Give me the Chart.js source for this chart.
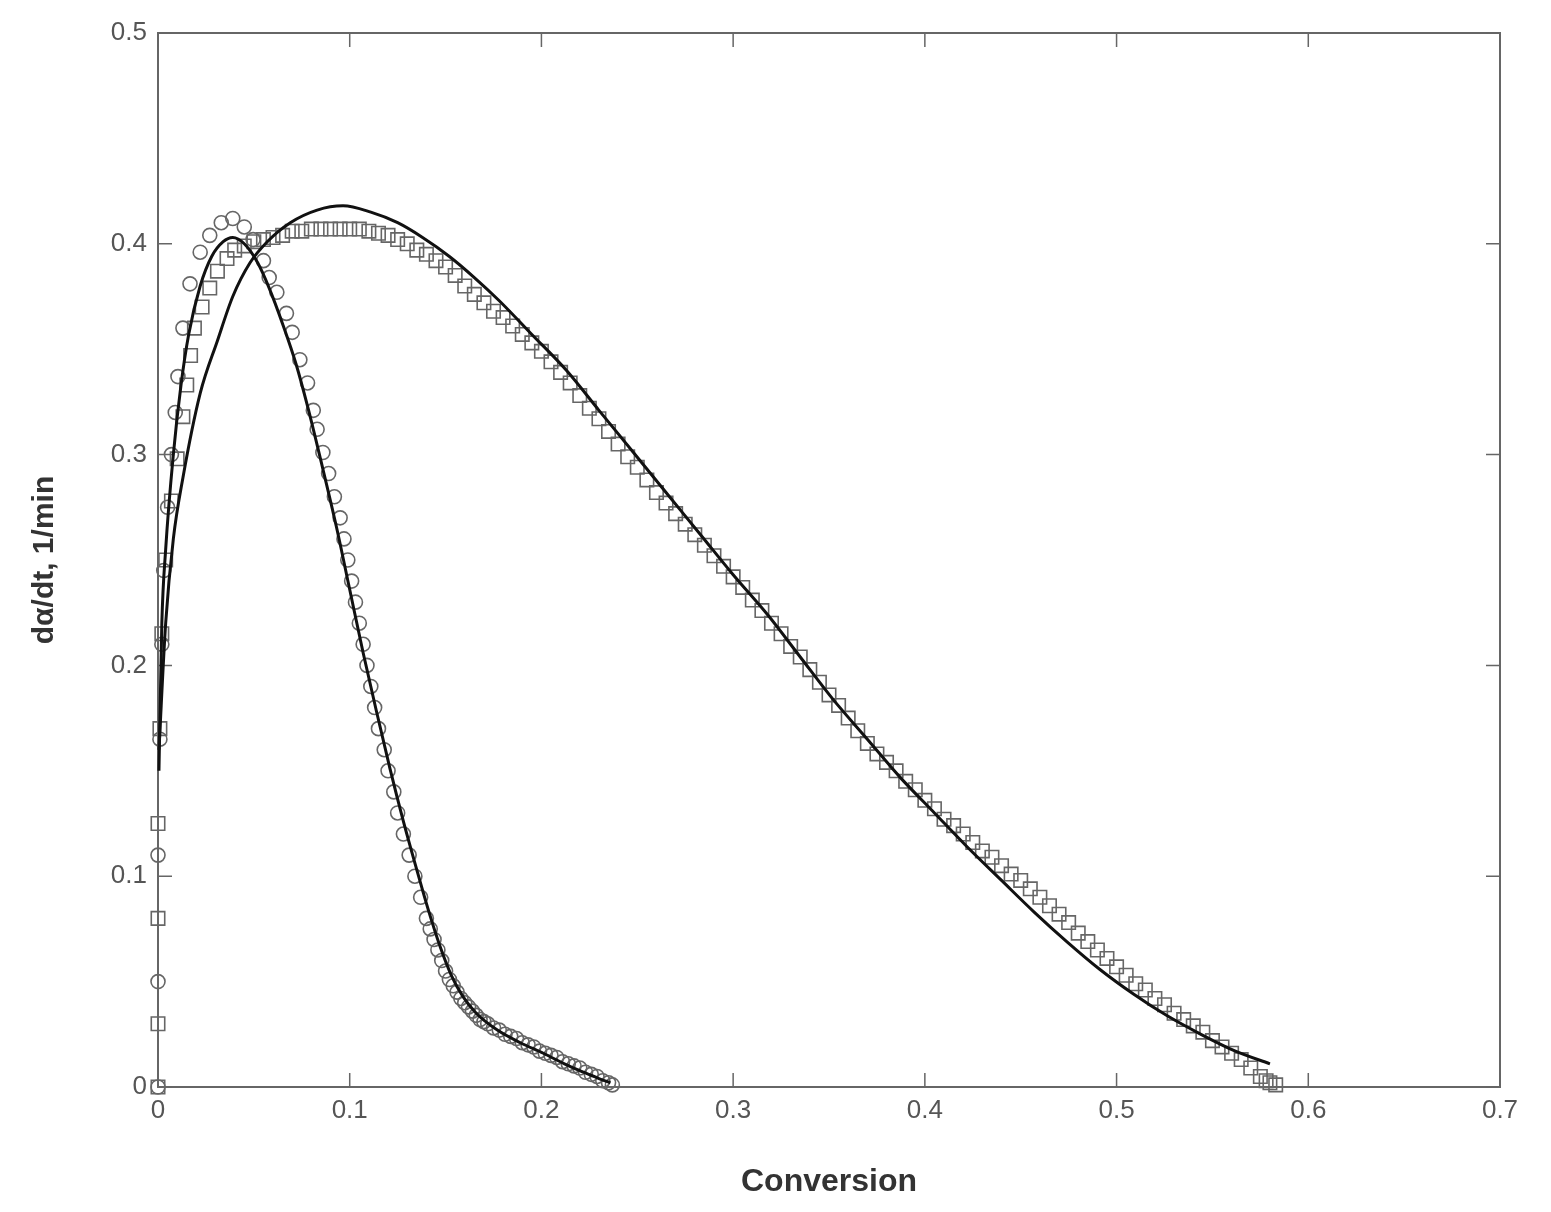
<!DOCTYPE html>
<html>
<head>
<meta charset="utf-8">
<script src="https://cdn.jsdelivr.net/npm/chart.js@4.4.1/dist/chart.umd.min.js"></script>
<style>
  body { margin: 0; background: #fff; }
  #wrap { width: 1551px; height: 1212px; }
</style>
</head>
<body>
<div id="wrap"><canvas id="my-Chart" width="1551" height="1212"></canvas></div>
<script>
// dados (circulos = serie rapida, quadrados = serie lenta)
const fastX = [0, 0, 0, 0.001, 0.002, 0.003, 0.005, 0.007, 0.009, 0.0104, 0.013, 0.0167, 0.022, 0.027, 0.033, 0.039, 0.045, 0.0496,
  0.055, 0.058, 0.062, 0.067, 0.070, 0.074, 0.078, 0.081, 0.083, 0.086, 0.089, 0.092, 0.095, 0.097, 0.099, 0.101, 0.103, 0.105,
  0.107, 0.109, 0.111, 0.113, 0.115, 0.118, 0.120, 0.123, 0.125, 0.128, 0.131, 0.134, 0.137, 0.140, 0.142, 0.144, 0.146, 0.148,
  0.150, 0.152, 0.154, 0.156, 0.158, 0.160, 0.162, 0.164, 0.166, 0.168, 0.170, 0.172, 0.175, 0.178, 0.181, 0.184, 0.187, 0.190,
  0.193, 0.196, 0.199, 0.202, 0.205, 0.208, 0.211, 0.214, 0.217, 0.220, 0.223, 0.226, 0.229, 0.232, 0.235, 0.237];
const fastY = [0, 0.05, 0.11, 0.165, 0.21, 0.245, 0.275, 0.30, 0.32, 0.337, 0.36, 0.381, 0.396, 0.404, 0.410, 0.412, 0.408, 0.402,
  0.392, 0.384, 0.377, 0.367, 0.358, 0.345, 0.334, 0.321, 0.312, 0.301, 0.291, 0.28, 0.27, 0.26, 0.25, 0.24, 0.23, 0.22,
  0.21, 0.20, 0.19, 0.18, 0.17, 0.16, 0.15, 0.14, 0.13, 0.12, 0.11, 0.10, 0.09, 0.08, 0.075, 0.07, 0.065, 0.06,
  0.055, 0.051, 0.048, 0.045, 0.042, 0.040, 0.038, 0.036, 0.034, 0.032, 0.031, 0.030, 0.028, 0.027, 0.025, 0.024, 0.023, 0.021,
  0.020, 0.019, 0.017, 0.016, 0.015, 0.014, 0.012, 0.011, 0.010, 0.009, 0.007, 0.006, 0.005, 0.003, 0.002, 0.001];

const slowX = [0, 0, 0, 0, 0.001, 0.002, 0.004, 0.007, 0.010, 0.013, 0.015, 0.017, 0.019, 0.023, 0.027, 0.031, 0.036, 0.040,
  0.045, 0.050, 0.055, 0.060, 0.065, 0.070, 0.075, 0.080, 0.085, 0.090, 0.095, 0.100, 0.105, 0.110, 0.115, 0.120, 0.125,
  0.130, 0.135, 0.140, 0.145, 0.150, 0.155, 0.160, 0.165, 0.170, 0.175, 0.180, 0.185, 0.190, 0.195, 0.200, 0.205, 0.210,
  0.215, 0.220, 0.225, 0.230, 0.235, 0.240, 0.245, 0.250, 0.255, 0.260, 0.265, 0.270, 0.275, 0.280, 0.285, 0.290, 0.295,
  0.300, 0.305, 0.310, 0.315, 0.320, 0.325, 0.330, 0.335, 0.340, 0.345, 0.350, 0.355, 0.360, 0.365, 0.370, 0.375, 0.380,
  0.385, 0.390, 0.395, 0.400, 0.405, 0.410, 0.415, 0.420, 0.425, 0.430, 0.435, 0.440, 0.445, 0.450, 0.455, 0.460, 0.465,
  0.470, 0.475, 0.480, 0.485, 0.490, 0.495, 0.500, 0.505, 0.510, 0.515, 0.520, 0.525, 0.530, 0.535, 0.540, 0.545, 0.550,
  0.555, 0.560, 0.565, 0.570, 0.575, 0.578, 0.580, 0.583];
const slowY = [0, 0.03, 0.08, 0.125, 0.17, 0.215, 0.25, 0.278, 0.298, 0.318, 0.333, 0.347, 0.360, 0.370, 0.379, 0.387, 0.393, 0.397,
  0.399, 0.401, 0.402, 0.403, 0.404, 0.406, 0.406, 0.407, 0.407, 0.407, 0.407, 0.407, 0.407, 0.406, 0.405, 0.404, 0.402,
  0.400, 0.397, 0.395, 0.392, 0.389, 0.385, 0.380, 0.376, 0.372, 0.368, 0.365, 0.361, 0.357, 0.353, 0.349, 0.344, 0.339,
  0.334, 0.328, 0.322, 0.317, 0.311, 0.305, 0.299, 0.294, 0.288, 0.282, 0.277, 0.272, 0.267, 0.262, 0.257, 0.252, 0.247,
  0.242, 0.237, 0.231, 0.226, 0.220, 0.215, 0.209, 0.204, 0.198, 0.192, 0.186, 0.181, 0.175, 0.169, 0.163, 0.158, 0.154,
  0.150, 0.145, 0.141, 0.136, 0.132, 0.127, 0.124, 0.120, 0.116, 0.112, 0.109, 0.105, 0.101, 0.098, 0.094, 0.090, 0.086,
  0.082, 0.078, 0.073, 0.069, 0.065, 0.061, 0.057, 0.053, 0.049, 0.046, 0.042, 0.039, 0.035, 0.032, 0.029, 0.026, 0.022,
  0.019, 0.016, 0.013, 0.009, 0.005, 0.003, 0.002, 0.001];

// curvas ajustadas (linhas pretas)
const fastFitX = [0.0005, 0.002, 0.004, 0.008, 0.012, 0.016, 0.022, 0.028, 0.034, 0.039, 0.045, 0.052, 0.058, 0.065, 0.072,
  0.078, 0.085, 0.093, 0.100, 0.107, 0.114, 0.121, 0.128, 0.135, 0.141, 0.147, 0.153, 0.159, 0.166, 0.177, 0.189, 0.201,
  0.212, 0.222, 0.230, 0.236];
const fastFitY = [0.15, 0.22, 0.255, 0.30, 0.333, 0.357, 0.380, 0.394, 0.401, 0.403, 0.400, 0.391, 0.379, 0.362, 0.343,
  0.323, 0.297, 0.266, 0.236, 0.206, 0.178, 0.151, 0.126, 0.103, 0.084, 0.067, 0.053, 0.043, 0.035, 0.027, 0.021, 0.016,
  0.011, 0.007, 0.004, 0.002];

const slowFitX = [0.0005, 0.004, 0.008, 0.013, 0.022, 0.031, 0.039, 0.048, 0.057, 0.069, 0.083, 0.0965, 0.111, 0.125, 0.138,
  0.152, 0.165, 0.178, 0.195, 0.213, 0.230, 0.248, 0.265, 0.283, 0.300, 0.318, 0.335, 0.352, 0.370, 0.387, 0.405, 0.422,
  0.440, 0.457, 0.474, 0.491, 0.509, 0.526, 0.544, 0.562, 0.580];
const slowFitY = [0.16, 0.22, 0.26, 0.289, 0.329, 0.354, 0.375, 0.391, 0.401, 0.410, 0.416, 0.418, 0.415, 0.410, 0.403,
  0.394, 0.384, 0.373, 0.357, 0.340, 0.321, 0.301, 0.282, 0.262, 0.243, 0.224, 0.204, 0.184, 0.165, 0.147, 0.130, 0.114,
  0.098, 0.083, 0.069, 0.056, 0.044, 0.034, 0.025, 0.017, 0.011];

function toPoints(xs, ys) {
    return xs.map((x, i) => ({ x: x, y: ys[i] }));
}

// moldura e marcas de escala para dentro, nos quatro lados
const boxPlugin = {
    id: 'boxPlugin',
    beforeDatasetsDraw(chart) {
        const { ctx, chartArea: a, scales } = chart;
        const len = 14;
        ctx.save();
        ctx.strokeStyle = '#666';
        ctx.lineWidth = 2;
        ctx.strokeRect(a.left, a.top, a.right - a.left, a.bottom - a.top);
        ctx.lineWidth = 1.5;
        ctx.beginPath();
        scales.x.ticks.forEach((t, i) => {
            const px = scales.x.getPixelForTick(i);
            ctx.moveTo(px, a.bottom); ctx.lineTo(px, a.bottom - len);
            ctx.moveTo(px, a.top); ctx.lineTo(px, a.top + len);
        });
        scales.y.ticks.forEach((t, i) => {
            const py = scales.y.getPixelForTick(i);
            ctx.moveTo(a.left, py); ctx.lineTo(a.left + len, py);
            ctx.moveTo(a.right, py); ctx.lineTo(a.right - len, py);
        });
        ctx.stroke();
        ctx.restore();
    }
};

const fmt = v => Number(v.toFixed(1)).toString();

const ctx = document.querySelector('#my-Chart');
const myChart = new Chart(ctx, {
    type: 'scatter',
    data: {
        datasets: [
            {
                label: 'ajuste lento',
                data: toPoints(slowFitX, slowFitY),
                showLine: true,
                cubicInterpolationMode: 'monotone',
                borderColor: '#111',
                borderWidth: 3,
                pointRadius: 0,
                clip: false
            },
            {
                label: 'ajuste rapido',
                data: toPoints(fastFitX, fastFitY),
                showLine: true,
                cubicInterpolationMode: 'monotone',
                borderColor: '#111',
                borderWidth: 3,
                pointRadius: 0,
                clip: false
            },
            {
                label: 'circulos',
                data: toPoints(fastX, fastY),
                pointStyle: 'circle',
                pointRadius: 7,
                borderColor: '#666',
                borderWidth: 1.6,
                backgroundColor: 'rgba(0,0,0,0)',
                clip: false
            },
            {
                label: 'quadrados',
                data: toPoints(slowX, slowY),
                pointStyle: 'rect',
                pointRadius: 9.5,
                borderColor: '#666',
                borderWidth: 1.6,
                backgroundColor: 'rgba(0,0,0,0)',
                clip: false
            }
        ]
    },
    options: {
        responsive: false,
        animation: false,
        layout: { padding: { top: 33, right: 51, left: 0, bottom: 0 } },
        plugins: { legend: { display: false }, tooltip: { enabled: false } },
        scales: {
            x: {
                type: 'linear',
                min: 0,
                max: 0.7,
                border: { display: false },
                grid: { display: false, drawTicks: false },
                ticks: {
                    stepSize: 0.1,
                    padding: 8,
                    color: '#555',
                    font: { family: 'Liberation Sans', size: 26 },
                    callback: fmt
                },
                title: {
                    display: true,
                    text: 'Conversion',
                    color: '#333',
                    font: { family: 'Liberation Sans', size: 32, weight: 'bold' },
                    padding: { top: 0, bottom: 11 }
                },
                afterFit: s => { s.height = 125; }
            },
            y: {
                type: 'linear',
                min: 0,
                max: 0.5,
                border: { display: false },
                grid: { display: false, drawTicks: false },
                ticks: {
                    stepSize: 0.1,
                    padding: 11,
                    color: '#555',
                    font: { family: 'Liberation Sans', size: 26 },
                    callback: fmt
                },
                title: {
                    display: true,
                    text: 'dα/dt, 1/min',
                    color: '#333',
                    font: { family: 'Liberation Sans', size: 30, weight: 'bold' },
                    padding: { top: 27, bottom: 0 }
                },
                afterFit: s => { s.width = 158; }
            }
        }
    },
    plugins: [boxPlugin]
});
</script>
</body>
</html>
